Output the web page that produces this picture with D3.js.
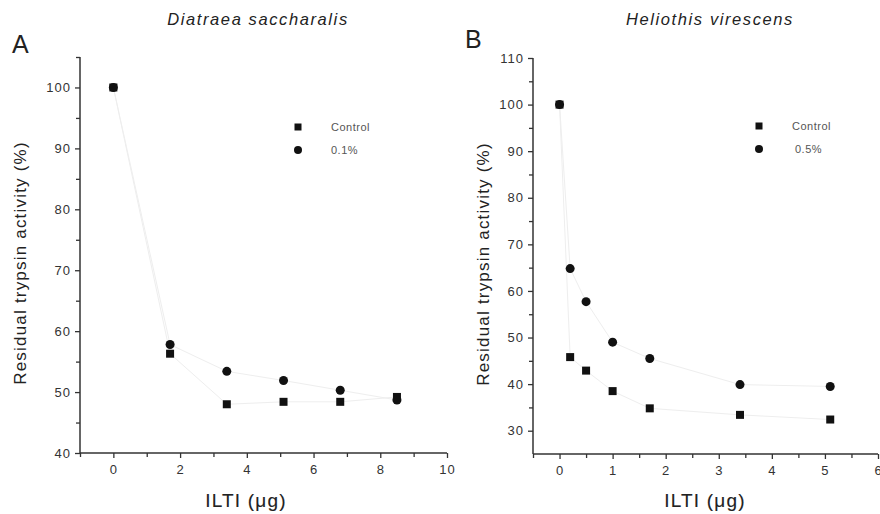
<!DOCTYPE html>
<html>
<head>
<meta charset="utf-8">
<script src="https://cdn.jsdelivr.net/npm/d3@7/dist/d3.min.js"></script>
<style>
  html, body { margin: 0; padding: 0; background: #fff; }
  svg { display: block; font-family: "Liberation Sans", Arial, sans-serif; }
</style>
</head>
<body>
<svg id="chart" width="880" height="514"></svg>
<script>
// Panel A: Diatraea saccharalis
const doseA = [0, 1.7, 3.4, 5.1, 6.8, 8.5];
const controlA = [100, 56.3, 48.0, 48.4, 48.4, 49.2];
const treatedA = [100, 57.8, 53.4, 51.9, 50.3, 48.7];
const xTicksA = [0, 2, 4, 6, 8, 10];
const yTicksA = [40, 50, 60, 70, 80, 90, 100];

// Panel B: Heliothis virescens
const doseB = [0, 0.2, 0.5, 1, 1.7, 3.4, 5.1];
const controlB = [100, 45.8, 42.9, 38.5, 34.8, 33.4, 32.4];
const treatedB = [100, 64.8, 57.7, 49.0, 45.5, 39.9, 39.5];
const xTicksB = [0, 1, 2, 3, 4, 5, 6];
const yTicksB = [30, 40, 50, 60, 70, 80, 90, 100, 110];

const svg = d3.select("#chart");

function drawPanel(p) {
  const g = svg.append("g");
  const x = d3.scaleLinear().domain(p.xDomain).range([p.left, p.right]);
  const y = d3.scaleLinear().domain(p.yDomain).range([p.bottom, p.top]);

  // faint connecting lines
  const line = d3.line().x(d => x(d[0])).y(d => y(d[1]));
  [p.control, p.treated].forEach(vals => {
    g.append("path")
      .datum(p.dose.map((d, i) => [d, vals[i]]))
      .attr("d", line)
      .attr("fill", "none")
      .attr("stroke", "#eeeeee")
      .attr("stroke-width", 1);
  });

  // y axis
  const yAxis = d3.axisLeft(y).tickValues(p.yTicks).tickSize(5).tickPadding(4).tickFormat(d3.format("d"));
  const ya = g.append("g").attr("transform", `translate(${p.left},0)`).call(yAxis);
  const yMinor = d3.axisLeft(y).tickValues(p.yMinor).tickSize(4).tickFormat("");
  const ym = g.append("g").attr("transform", `translate(${p.left},0)`).call(yMinor);
  ym.select(".domain").remove();

  // x axis
  const xAxis = d3.axisBottom(x).tickValues(p.xTicks).tickSize(5).tickPadding(7).tickFormat(d3.format("d"));
  const xa = g.append("g").attr("transform", `translate(0,${p.bottom})`).call(xAxis);
  const xMinor = d3.axisBottom(x).tickValues(p.xMinor).tickSize(4).tickFormat("");
  const xm = g.append("g").attr("transform", `translate(0,${p.bottom})`).call(xMinor);
  xm.select(".domain").remove();

  [ya, xa, ym, xm].forEach(a => {
    a.selectAll(".domain").attr("stroke", "#333").attr("stroke-width", 1.5);
    a.selectAll(".tick line").attr("stroke", "#333").attr("stroke-width", 1.3);
    a.selectAll(".tick text").attr("fill", "#333").style("font-size", "13px").style("letter-spacing", "1px");
  });
  ya.select(".domain").attr("d", `M0,${p.bottom}V${p.top}`);
  xa.select(".domain").attr("d", `M${p.left},0H${p.right}`);

  // markers: control squares first, treated circles on top
  const s = 8;
  g.selectAll(".sq").data(p.dose.map((d, i) => [d, p.control[i]])).join("rect")
    .attr("x", d => x(d[0]) - s / 2).attr("y", d => y(d[1]) - s / 2)
    .attr("width", s).attr("height", s).attr("fill", "#111");
  g.selectAll(".ci").data(p.dose.map((d, i) => [d, p.treated[i]])).join("circle")
    .attr("cx", d => x(d[0])).attr("cy", d => y(d[1])).attr("r", 4.5).attr("fill", "#111");

  // legend
  g.append("rect").attr("x", p.legX - 3.5).attr("y", p.legY - 3.5).attr("width", 7).attr("height", 7).attr("fill", "#111");
  g.append("circle").attr("cx", p.legX).attr("cy", p.legY + 23).attr("r", 4).attr("fill", "#111");
  g.append("text").attr("x", p.legX + 33).attr("y", p.legY + 4).text("Control")
    .attr("fill", "#555").style("font-size", "11px").style("letter-spacing", "0.5px");
  g.append("text").attr("x", p.legX + p.treatDx).attr("y", p.legY + 27).text(p.treatLabel)
    .attr("fill", "#555").style("font-size", "11px").style("letter-spacing", "0.5px");

  // titles and axis labels
  g.append("text").attr("x", p.titleX).attr("y", 25).attr("text-anchor", "middle")
    .style("font-style", "italic").style("font-size", "16.5px").style("letter-spacing", "1.6px")
    .attr("fill", "#222").text(p.title);
  g.append("text").attr("x", p.letterX).attr("y", p.letterY).text(p.letter)
    .style("font-size", "25px").attr("fill", "#222");
  g.append("text").attr("x", p.xLabelX).attr("y", 507).attr("text-anchor", "middle")
    .style("font-size", "19px").style("letter-spacing", "1.2px").attr("fill", "#222")
    .attr("stroke", "#222").attr("stroke-width", 0.12).text("ILTI (\u03bcg)");
  g.append("text").attr("transform", `translate(${p.yLabelX},${p.yLabelY}) rotate(-90)`)
    .attr("text-anchor", "middle").style("font-size", "17px").style("letter-spacing", "1.2px")
    .attr("fill", "#222").text("Residual trypsin activity (%)");
}

drawPanel({
  dose: doseA, control: controlA, treated: treatedA,
  xDomain: [-1, 10], yDomain: [40, 105],
  left: 80, right: 447, top: 57, bottom: 453,
  xTicks: xTicksA, xMinor: [-1, 1, 3, 5, 7, 9],
  yTicks: yTicksA, yMinor: [45, 55, 65, 75, 85, 95, 105],
  legX: 298, legY: 127, treatLabel: "0.1%", treatDx: 33,
  title: "Diatraea saccharalis", titleX: 258,
  letter: "A", letterX: 12, letterY: 53,
  xLabelX: 246, yLabelX: 26, yLabelY: 263
});

drawPanel({
  dose: doseB, control: controlB, treated: treatedB,
  xDomain: [-0.5, 6], yDomain: [25, 110],
  left: 533, right: 878, top: 58, bottom: 454,
  xTicks: xTicksB, xMinor: [-0.5, 0.5, 1.5, 2.5, 3.5, 4.5, 5.5],
  yTicks: yTicksB, yMinor: [35, 45, 55, 65, 75, 85, 95, 105],
  legX: 759, legY: 126, treatLabel: "0.5%", treatDx: 36,
  title: "Heliothis virescens", titleX: 710,
  letter: "B", letterX: 465, letterY: 48,
  xLabelX: 705, yLabelX: 489, yLabelY: 264
});
</script>
</body>
</html>
